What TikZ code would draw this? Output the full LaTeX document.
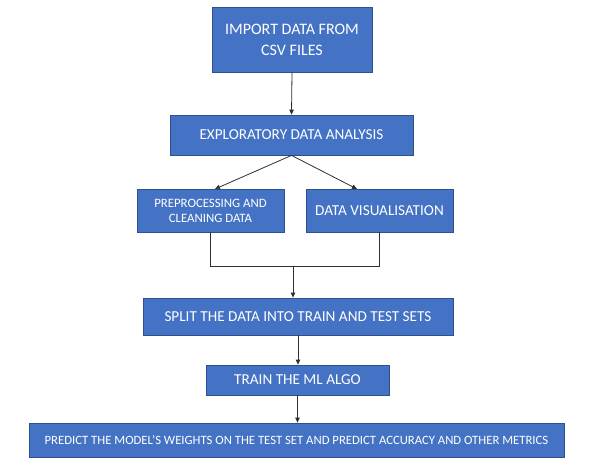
\documentclass[tikz,border=0pt]{standalone}
\usepackage{fontspec}
\setmainfont{Carlito}
\usetikzlibrary{arrows.meta,calc}
\definecolor{boxfill}{HTML}{4472C4}
\definecolor{boxline}{HTML}{2F528F}
\definecolor{conn}{HTML}{303030}
\begin{document}
\begin{tikzpicture}[x=1pt,y=-1pt,
  box/.style={draw=boxline,line width=0.8pt,fill=boxfill,text=white,inner sep=0pt,align=center,font=\fontsize{15.2}{19}\selectfont},
  arr/.style={draw=conn,line width=0.8pt,-{Triangle[length=5pt,width=4.5pt]}},
  ln/.style={draw=conn,line width=0.8pt}]
\useasboundingbox (0,0) rectangle (597,461);
\fill[white] (0,0) rectangle (597,461);
\node[box,minimum width=160pt,minimum height=65pt,font=\fontsize{16}{21}\selectfont] (b1) at (292,39.5) {IMPORT DATA FROM\\CSV FILES};
\node[box,minimum width=243pt,minimum height=40pt] (b2) at (291.5,135) {EXPLORATORY DATA ANALYSIS};
\node[box,minimum width=147pt,minimum height=43pt,font=\fontsize{12.8}{15}\selectfont] (b3) at (210.5,210.5) {PREPROCESSING AND\\CLEANING DATA};
\node[box,minimum width=147pt,minimum height=43pt] (b4) at (379.5,210.5) {DATA VISUALISATION};
\node[box,minimum width=310pt,minimum height=37pt] (b5) at (298,316.5) {SPLIT THE DATA INTO TRAIN AND TEST SETS};
\node[box,minimum width=183pt,minimum height=30pt] (b6) at (297.5,380) {TRAIN THE ML ALGO};
\node[box,minimum width=535pt,minimum height=34pt,font=\fontsize{12.7}{15}\selectfont] (b7) at (296.5,440) {PREDICT THE MODEL’S WEIGHTS ON THE TEST SET AND PREDICT ACCURACY AND OTHER METRICS};
\coordinate (j) at (293,266);
\coordinate (t3) at (215,189);
\coordinate (t4) at (357,189);
\draw[arr] (b1.south) -- (b2.south |- b2.north);
\draw[arr] (b2.south) -- (t3);
\draw[arr] (b2.south) -- (t4);
\draw[ln] (b3.south) |- (j);
\draw[ln] (b4.south) |- (j);
\draw[arr] (j) -- (j |- b5.north);
\draw[arr] (b5.south) -- (b5.south |- b6.north);
\draw[arr] (b6.south) -- (b6.south |- b7.north);
\end{tikzpicture}
\end{document}
